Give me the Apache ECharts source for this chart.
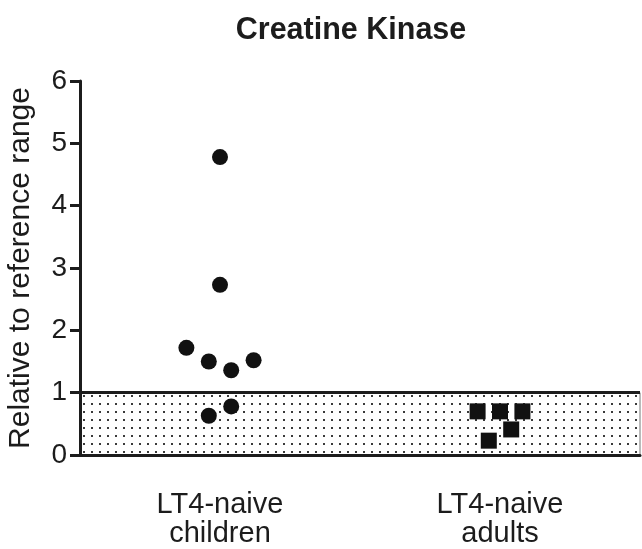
<!DOCTYPE html>
<html>
<head>
<meta charset="utf-8">
<script src="https://cdn.jsdelivr.net/npm/echarts@6/dist/echarts.min.js"></script>
<style>
  html, body { margin: 0; padding: 0; background: #fff; }
  #chart { width: 642px; height: 549px; }
</style>
</head>
<body>
<div id="chart"></div>
<script>
// Group labels on the x axis
const categories = ['LT4-naive\nchildren', 'LT4-naive\nadults'];

// Creatine kinase, relative to the reference range
const childrenValues = [4.78, 2.73, 1.72, 1.50, 1.36, 1.52, 0.78, 0.63];
const adultValues = [0.70, 0.70, 0.70, 0.41, 0.23];

// Horizontal spread of the points around their group centre (category units)
const childrenJitter = [0, 0, -0.12, -0.04, 0.04, 0.12, 0.04, -0.04];
const adultJitter = [-0.08, 0, 0.08, 0.04, -0.04];

// Y axis ticks and the shaded reference range
const yTicks = [0, 1, 2, 3, 4, 5, 6];
const referenceRange = [0, 1];

const FONT = '"Liberation Sans", Arial, Helvetica, sans-serif';
const INK = '#1c1c1c';

function points(values, jitter, groupIndex) {
  return values.map((v, i) => [groupIndex + 0.5 + jitter[i], v]);
}

// Stippled fill for the reference band
function dotPattern() {
  const c = document.createElement('canvas');
  c.width = 8;
  c.height = 8;
  const ctx = c.getContext('2d');
  ctx.fillStyle = '#fff';
  ctx.fillRect(0, 0, 8, 8);
  ctx.fillStyle = '#3a3a3a';
  ctx.fillRect(3, 3, 2, 2);
  return c;
}

const chart = echarts.init(document.getElementById('chart'), null, { renderer: 'canvas' });

chart.setOption({
  animation: false,
  backgroundColor: '#fff',
  title: {
    text: 'Creatine Kinase',
    left: 346,
    top: 10,
    textAlign: 'center',
    textStyle: { fontFamily: FONT, fontSize: 30.5, fontWeight: 'bold', color: INK }
  },
  grid: { left: 80, right: 2, top: 81, bottom: 94, containLabel: false, outerBoundsMode: 'none' },
  xAxis: [
    {
      type: 'category',
      data: categories,
      boundaryGap: true,
      axisLine: { lineStyle: { color: INK, width: 3 } },
      axisTick: { alignWithLabel: true, length: 10, lineStyle: { color: INK, width: 3 } },
      axisLabel: { fontFamily: FONT, fontSize: 29, color: INK, margin: 35, lineHeight: 29 },
      splitLine: { show: false },
      z: 5
    },
    {
      type: 'value',
      min: 0,
      max: categories.length,
      show: false
    }
  ],
  yAxis: {
    type: 'value',
    min: yTicks[0],
    max: yTicks[yTicks.length - 1],
    interval: 1,
    name: 'Relative to reference range',
    nameLocation: 'middle',
    nameGap: 44,
    nameTextStyle: { fontFamily: FONT, fontSize: 30, color: INK },
    axisLine: { show: true, lineStyle: { color: INK, width: 3 } },
    axisTick: { show: true, length: 10, lineStyle: { color: INK, width: 3 } },
    axisLabel: { fontFamily: FONT, fontSize: 28, color: INK, margin: 13 },
    splitLine: { show: false },
    z: 5
  },
  series: [
    {
      name: 'LT4-naive children',
      type: 'scatter',
      xAxisIndex: 1,
      symbol: 'circle',
      symbolSize: 16,
      itemStyle: { color: '#111', opacity: 1 },
      data: points(childrenValues, childrenJitter, 0),
      z: 4,
      markArea: {
        silent: true,
        itemStyle: {
          color: { image: dotPattern(), repeat: 'repeat' },
          borderColor: '#777',
          borderWidth: 1
        },
        data: [[{ yAxis: referenceRange[0] }, { yAxis: referenceRange[1] }]]
      },
      markLine: {
        silent: true,
        symbol: 'none',
        label: { show: false },
        lineStyle: { color: INK, width: 3, type: 'solid' },
        data: [{ yAxis: referenceRange[1] }]
      }
    },
    {
      name: 'LT4-naive adults',
      type: 'scatter',
      xAxisIndex: 1,
      symbol: 'rect',
      symbolSize: 16,
      itemStyle: { color: '#111', opacity: 1 },
      data: points(adultValues, adultJitter, 1),
      z: 4
    }
  ]
});
</script>
</body>
</html>
